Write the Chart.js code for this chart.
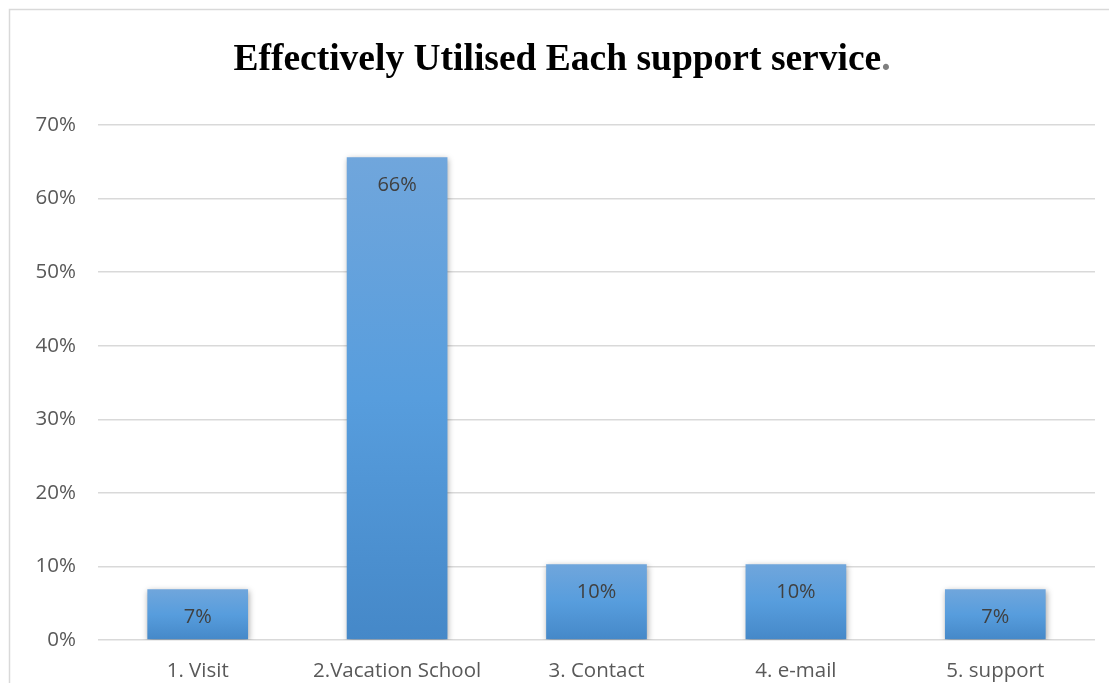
<!DOCTYPE html>
<html>
<head>
<meta charset="utf-8">
<title>Effectively Utilised Each support service.</title>
<script src="https://cdn.jsdelivr.net/npm/chart.js@4.4.1/dist/chart.umd.min.js"></script>
<style>
  html, body { margin: 0; padding: 0; background: #ffffff; }
  #wrap { position: relative; width: 1109px; height: 683px; }
</style>
</head>
<body>
<div id="wrap"><canvas id="serviceChart" width="1109" height="683"></canvas></div>
<script>
// Datos del gráfico
const categories = ['1. Visit', '2.Vacation School', '3. Contact', '4. e-mail', '5. support'];
const shares = [0.069, 0.656, 0.103, 0.103, 0.069];
const yTicks = [0, 0.1, 0.2, 0.3, 0.4, 0.5, 0.6, 0.7];
const chartTitle = 'Effectively Utilised Each support service';

const LABEL_FONT = '"Open Sans", "Noto Sans", sans-serif';

// Degradado vertical por barra (claro arriba, más oscuro abajo)
function barGradient(context) {
    const chart = context.chart;
    const area = chart.chartArea;
    if (!area || context.type !== 'data') return '#5b9bd5';
    const y = chart.scales.y;
    const top = y.getPixelForValue(context.raw);
    const bottom = y.getPixelForValue(0);
    const g = chart.ctx.createLinearGradient(0, top, 0, bottom);
    g.addColorStop(0, '#70a6dc');
    g.addColorStop(0.5, '#579ddd');
    g.addColorStop(1, '#4588c8');
    return g;
}

// Marco exterior del gráfico
const framePlugin = {
    id: 'frame',
    beforeDraw(chart) {
        const ctx = chart.ctx;
        ctx.save();
        ctx.strokeStyle = '#d9d9d9';
        ctx.lineWidth = 1.5;
        ctx.beginPath();
        ctx.moveTo(9.5, chart.height + 2);
        ctx.lineTo(9.5, 9.5);
        ctx.lineTo(chart.width + 2, 9.5);
        ctx.stroke();
        ctx.restore();
    }
};

// Título en serif con el punto final en gris
const titlePlugin = {
    id: 'serifTitle',
    afterDraw(chart) {
        const ctx = chart.ctx;
        ctx.save();
        ctx.font = 'bold 37.5px "Liberation Serif", "DejaVu Serif", serif';
        ctx.textBaseline = 'alphabetic';
        const mainW = ctx.measureText(chartTitle).width;
        const dotW = ctx.measureText('.').width;
        const x0 = 562 - (mainW + dotW) / 2;
        ctx.fillStyle = '#000000';
        ctx.fillText(chartTitle, x0, 70);
        ctx.fillStyle = '#7f7f7f';
        ctx.fillText('.', x0 + mainW, 70);
        ctx.restore();
    }
};

// Sombra suave bajo las barras
const shadowPlugin = {
    id: 'barShadow',
    beforeDatasetsDraw(chart) {
        const ctx = chart.ctx;
        ctx.save();
        ctx.shadowColor = 'rgba(0, 0, 0, 0.35)';
        ctx.shadowBlur = 6;
        ctx.shadowOffsetX = 1;
        ctx.shadowOffsetY = 2;
    },
    afterDatasetsDraw(chart) {
        chart.ctx.restore();
    }
};

// Etiquetas de valor dentro de cada barra, arriba
const valueLabels = {
    id: 'valueLabels',
    afterDatasetsDraw(chart) {
        const ctx = chart.ctx;
        const meta = chart.getDatasetMeta(0);
        ctx.save();
        ctx.font = '20px ' + LABEL_FONT;
        ctx.fillStyle = '#404040';
        ctx.textAlign = 'center';
        ctx.textBaseline = 'middle';
        meta.data.forEach((bar, i) => {
            ctx.fillText(Math.round(shares[i] * 100) + '%', bar.x, bar.y + 28);
        });
        ctx.restore();
    }
};

new Chart(document.getElementById('serviceChart'), {
    type: 'bar',
    data: {
        labels: categories,
        datasets: [{
            data: shares,
            backgroundColor: barGradient,
            borderWidth: 0,
            categoryPercentage: 1,
            barPercentage: 0.505
        }]
    },
    options: {
        responsive: false,
        animation: false,
        layout: {
            padding: { top: 125, right: 14, left: 0, bottom: 0 }
        },
        plugins: {
            legend: { display: false },
            title: { display: false },
            tooltip: { enabled: false }
        },
        scales: {
            x: {
                grid: { display: false, drawTicks: false },
                border: { display: false },
                ticks: {
                    color: '#595959',
                    font: { family: LABEL_FONT, size: 20.5 },
                    padding: 19,
                    maxRotation: 0,
                    autoSkip: false
                },
                afterFit(scale) { scale.height = 43; }
            },
            y: {
                min: 0,
                max: 0.7,
                afterBuildTicks(scale) {
                    scale.ticks = yTicks.map(v => ({ value: v }));
                },
                grid: { color: '#d9d9d9', lineWidth: 1.5, drawTicks: false },
                border: { display: false },
                ticks: {
                    color: '#595959',
                    font: { family: LABEL_FONT, size: 20.5 },
                    padding: 22,
                    callback: v => Math.round(v * 100) + '%'
                },
                afterFit(scale) { scale.width = 98; }
            }
        }
    },
    plugins: [framePlugin, shadowPlugin, valueLabels, titlePlugin]
});
</script>
</body>
</html>
